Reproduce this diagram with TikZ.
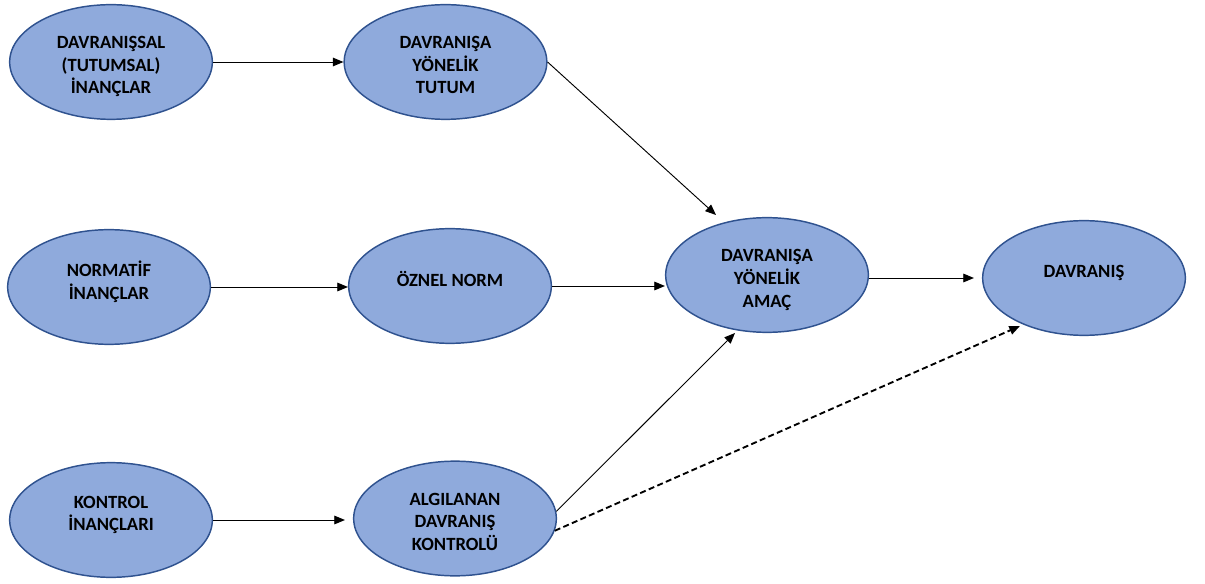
\documentclass[tikz,border=0pt]{standalone}
\usepackage{fontspec}
\setmainfont{Carlito}
\usepackage{xcolor}
\usetikzlibrary{shapes.geometric,arrows.meta,positioning}
\definecolor{ovalfill}{RGB}{143,170,220}
\definecolor{ovaldraw}{RGB}{47,82,143}
\tikzset{
  oval/.style={ellipse, draw=ovaldraw, fill=ovalfill, line width=1.1pt,
    minimum width=152pt, minimum height=86pt, inner sep=0pt, align=center,
    font=\fontsize{14}{16.9}\selectfont\bfseries},
  lifted/.style={text depth=10pt},
  flat/.style={text height=48pt, text depth=0pt},
  link/.style={-{Triangle[length=8pt,width=6.5pt]}, line width=0.7pt},
  dashlink/.style={link, line width=1.4pt, dash pattern={on 4.5pt off 2.5pt}},
}
\begin{document}
\begin{tikzpicture}[x=0.75pt,y=0.75pt,yscale=-1,xscale=1]
  \useasboundingbox (0,0) rectangle (1205,584);

  %Shape: Ellipse
  \node[oval,flat] (dbelief) at (111,62) {DAVRANIŞSAL\\(TUTUMSAL)\\İNANÇLAR};
  \node[oval,flat] (attitude) at (445.5,62) {DAVRANIŞA\\YÖNELİK\\TUTUM};
  \node[oval,lifted] (nbelief) at (109,287) {NORMATİF\\İNANÇLAR};
  \node[oval,lifted] (norm) at (450,286) {ÖZNEL NORM};
  \node[oval,flat] (intent) at (767,275) {DAVRANIŞA\\YÖNELİK\\AMAÇ};
  \node[oval,lifted] (behav) at (1084,278) {DAVRANIŞ};
  \node[oval,lifted] (cbelief) at (111,520) {KONTROL\\İNANÇLARI};
  \node[oval,flat] (control) at (455,518.5) {ALGILANAN\\DAVRANIŞ\\KONTROLÜ};

  %Arrow ends
  \coordinate (tipA) at (716,215);
  \coordinate (tipC) at (735,333);
  \coordinate (tipD) at (1020,326);

  %Straight Lines
  \draw[link] (dbelief) -- (attitude);
  \draw[link] (attitude.east) -- (tipA);
  \draw[link] (nbelief.east) -- (nbelief.east -| norm.west);
  \draw[link] (norm.east) -- (norm.east -| intent.west);
  \draw[link, shorten >=6pt] (behav.west -| intent.east) -- (behav.west);
  \draw[link, shorten >=6pt] (cbelief.east) -- (cbelief.east -| control.west);
  \draw[link] (control.4) -- (tipC);
  \draw[dashlink] (control.-7) -- (tipD);
\end{tikzpicture}
\end{document}
